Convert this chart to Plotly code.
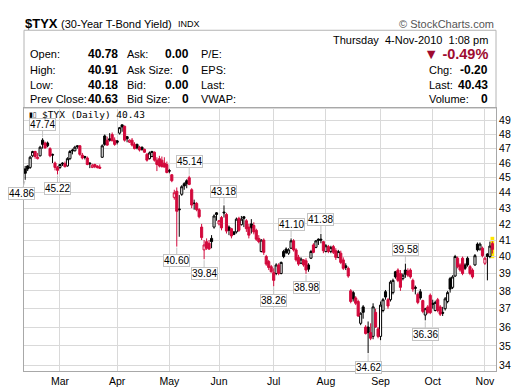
import math
import pandas as pd
import plotly.graph_objects as go

# ---------------- data ----------------
holidays = ["2010-02-15", "2010-04-02", "2010-05-31", "2010-07-05", "2010-09-06"]
dates = [d.strftime("%Y-%m-%d") for d in pd.bdate_range("2010-02-08", "2010-11-04")
         if d.strftime("%Y-%m-%d") not in holidays]

open_ = [
    # Feb
    45.6, 45.8, 45.7, 46.5, 46.8, 46.3, 46.5, 47.6, 47.4, 47.4, 47.0, 46.6, 46.0, 45.7,
    # Mar
    45.7, 46.0, 45.95, 45.8, 46.3, 46.9, 46.85, 47.2, 47.2, 46.55, 46.45, 46.35, 46.0, 45.7,
    45.9, 45.8, 45.72, 46.4, 47.9, 47.6, 47.7, 48.0, 47.6,
    # Apr
    47.55, 48.1, 48.7, 48.6, 47.85, 47.45, 47.6, 47.3, 47.3, 47.1, 47.1, 46.95, 46.6, 46.3,
    46.45, 46.75, 46.2, 46.3, 46.2, 46.0, 45.9,
    # May
    45.48, 45.2, 43.7, 44.1, 42.95, 43.9, 44.6, 44.8, 45.0, 44.2, 43.3, 43.3, 42.9, 41.8,
    40.4, 40.9, 40.8, 41.1, 41.8, 42.7,
    # Jun
    42.0, 42.4, 42.75, 42.6, 41.8, 41.7, 41.5, 41.5, 42.35, 41.95, 42.45, 42.2, 41.8, 42.0,
    41.9, 41.6, 41.1, 40.3, 41.0, 40.0, 39.7, 39.4,
    # Jul
    39.05, 39.0, 39.5, 39.0, 40.3, 40.45, 40.2, 40.5, 40.95, 40.4, 39.95, 39.6, 39.8, 39.75,
    39.5, 39.9, 40.7, 40.55, 41.05, 41.05, 40.9,
    # Aug
    40.3, 40.6, 40.3, 40.6, 40.35, 39.95, 40.2, 39.8, 39.45, 39.3, 38.0, 37.9, 37.6, 37.4,
    36.2, 37.1, 36.0, 36.0, 35.7, 35.5, 36.8, 35.9,
    # Sep
    35.5, 36.9, 37.95, 37.5, 37.5, 37.9, 39.1, 39.2, 39.0, 38.7, 39.2, 39.15, 39.2, 38.6,
    38.2, 37.8, 37.95, 37.45, 36.65, 37.1, 37.75,
    # Oct
    37.3, 36.9, 37.5, 37.1, 36.8, 37.0, 37.4, 38.7, 38.2, 38.85, 39.9, 39.5, 39.9, 39.5,
    39.9, 39.4, 39.2, 39.5, 40.75, 40.45, 40.5,
    # Nov
    39.6, 40.15, 40.0, 40.78,
]
high = [
    45.8, 45.85, 46.5, 46.85, 46.85, 46.7, 47.2, 47.74, 47.5, 47.5, 47.1, 46.65, 46.1, 45.8,
    45.95, 46.05, 46.1, 46.4, 46.9, 47.0, 47.2, 47.25, 47.25, 46.7, 46.5, 46.45, 46.05, 45.95,
    45.95, 45.85, 45.9, 47.3, 48.0, 47.85, 48.1, 48.15, 47.8,
    47.6, 48.55, 48.72, 48.65, 47.9, 47.65, 47.75, 47.45, 47.35, 47.2, 47.15, 47.0, 46.7, 46.8,
    46.85, 46.8, 46.4, 46.5, 46.45, 46.4, 46.1,
    45.6, 45.25, 44.2, 44.35, 43.85, 44.5, 44.7, 44.9, 45.14, 44.3, 43.55, 43.4, 43.0, 42.0,
    41.0, 41.1, 41.0, 41.3, 42.6, 42.75,
    42.25, 42.5, 43.18, 42.7, 41.9, 41.75, 41.55, 42.4, 42.45, 42.5, 42.5, 42.3, 42.0, 42.3,
    42.1, 41.7, 41.3, 41.05, 41.1, 40.1, 39.8, 39.5,
    39.3, 39.6, 39.6, 39.7, 40.4, 40.55, 40.5, 41.10, 41.05, 40.5, 40.1, 39.95, 39.85, 39.9,
    39.6, 40.4, 40.8, 41.0, 41.1, 41.38, 40.95,
    40.75, 40.7, 40.65, 40.7, 40.5, 40.4, 40.35, 39.95, 39.6, 39.4, 38.1, 38.0, 37.7, 37.5,
    36.8, 37.2, 36.1, 36.3, 36.2, 37.3, 37.0, 36.0,
    37.4, 37.6, 38.05, 37.6, 38.6, 38.7, 39.15, 39.3, 39.2, 39.0, 39.58, 39.3, 39.3, 38.7,
    38.3, 37.9, 38.1, 37.5, 37.05, 37.2, 37.85,
    37.5, 37.45, 37.6, 37.2, 37.1, 37.65, 38.0, 38.8, 38.9, 40.1, 40.0, 39.6, 40.0, 39.6,
    40.0, 39.5, 39.3, 40.15, 40.85, 40.85, 40.6,
    40.0, 40.2, 40.9, 40.91,
]
low = [
    44.86, 45.45, 45.6, 46.4, 46.3, 46.25, 46.45, 47.0, 47.0, 47.1, 46.4, 46.0, 45.5, 45.22,
    45.6, 45.8, 45.7, 45.75, 46.2, 46.6, 46.8, 47.0, 46.5, 46.25, 46.25, 45.85, 45.65, 45.65,
    45.65, 45.62, 45.6, 46.35, 47.2, 47.2, 47.5, 47.55, 47.2,
    47.3, 48.0, 48.2, 47.5, 47.45, 47.4, 47.15, 46.95, 46.95, 46.8, 46.85, 46.7, 46.1, 46.25,
    46.4, 46.1, 45.45, 45.7, 45.7, 45.7, 45.3,
    45.3, 44.7, 43.55, 40.60, 41.2, 43.8, 44.2, 44.3, 44.5, 43.0, 42.9, 42.8, 42.35, 41.0,
    39.84, 40.4, 40.4, 40.5, 41.7, 42.2,
    41.9, 41.6, 42.4, 41.4, 41.3, 41.1, 41.3, 41.4, 41.5, 41.9, 41.8, 41.5, 41.1, 41.4,
    41.35, 40.95, 40.8, 40.25, 40.1, 39.45, 39.2, 39.05,
    38.26, 38.9, 38.9, 38.95, 39.9, 40.15, 40.1, 40.45, 40.3, 39.7, 39.45, 39.55, 39.4, 38.98,
    39.1, 39.85, 40.2, 40.5, 40.7, 40.8, 40.2,
    40.25, 40.2, 40.2, 40.15, 39.8, 39.9, 39.55, 39.2, 39.2, 38.75, 37.3, 37.4, 37.2, 36.55,
    36.1, 36.45, 35.6, 34.62, 35.3, 35.35, 35.95, 35.4,
    35.3, 36.8, 37.5, 37.0, 37.4, 37.8, 38.7, 38.5, 38.0, 38.6, 38.75, 38.8, 38.7, 37.95,
    37.8, 37.25, 37.5, 36.75, 36.36, 36.7, 36.7,
    37.0, 36.85, 36.8, 36.6, 36.6, 36.9, 37.3, 37.9, 38.1, 38.8, 39.3, 39.1, 38.9, 39.2,
    39.4, 38.9, 38.7, 39.45, 40.3, 40.35, 39.95,
    39.5, 38.6, 39.9, 40.18,
]
close = [
    45.3, 45.6, 46.4, 46.8, 46.45, 46.4, 47.1, 47.3, 47.05, 47.2, 46.5, 46.55, 45.7, 45.5,
    45.9, 45.95, 45.75, 46.3, 46.8, 46.85, 47.1, 47.15, 46.6, 46.35, 46.4, 45.9, 45.95, 45.85,
    45.75, 45.7, 45.65, 47.2, 47.3, 47.25, 47.6, 47.55, 47.3,
    47.45, 48.5, 48.55, 47.6, 47.7, 47.6, 47.25, 47.0, 47.05, 46.9, 46.95, 46.75, 46.2, 46.7,
    46.8, 46.2, 45.9, 45.8, 45.75, 45.72, 45.35,
    45.45, 44.8, 44.0, 42.8, 42.9, 44.4, 44.45, 44.6, 44.55, 43.2, 43.32, 42.9, 42.45, 41.15,
    40.7, 40.5, 40.45, 40.9, 42.5, 42.6,
    42.2, 41.75, 42.7, 41.55, 41.6, 41.25, 41.35, 42.3, 41.6, 42.3, 42.35, 41.7, 41.3, 41.75,
    41.5, 41.05, 40.9, 41.0, 40.25, 39.55, 39.35, 39.1,
    38.6, 39.5, 39.0, 39.65, 40.0, 40.25, 40.4, 40.95, 40.4, 39.8, 39.55, 39.85, 39.5, 39.2,
    39.25, 40.3, 40.25, 40.95, 40.98, 41.0, 40.35,
    40.65, 40.3, 40.55, 40.25, 39.95, 40.3, 39.65, 39.3, 39.35, 38.85, 37.4, 37.55, 37.3, 36.6,
    36.75, 36.8, 35.65, 35.7, 35.4, 37.1, 36.0, 35.5,
    37.2, 37.5, 37.65, 37.15, 38.5, 38.6, 38.8, 38.6, 38.2, 38.9, 38.95, 38.9, 38.8, 38.1,
    38.15, 37.35, 37.6, 36.85, 37.0, 36.8, 36.78,
    37.25, 37.35, 36.9, 36.7, 36.75, 37.55, 37.9, 38.1, 38.8, 40.0, 39.4, 39.2, 39.0, 39.3,
    39.5, 39.0, 38.8, 40.05, 40.4, 40.75, 40.05,
    39.9, 40.0, 40.63, 40.43,
]

peak_idx = [7, 66, 80, 107, 119, 153]                 # labelled swing highs
trough_idx = [0, 13, 61, 72, 100, 113, 138, 161]      # labelled swing lows
month_labels = ["Mar", "Apr", "May", "Jun", "Jul", "Aug", "Sep", "Oct", "Nov"]
y_ticks = list(range(34, 50))

symbol = "$TYX"
symbol_name = "(30-Year T-Bond Yield)"
exchange = "INDX"
stamp = "Thursday  4-Nov-2010  1:08 pm"

# ---------------- styling ----------------
RED = "#D2093C"
DARKRED = "#9E0B30"
GRID = "#d9d9d9"
FRAME = "#a8a8a8"
FONT = "Liberation Sans, Arial, sans-serif"

W, H = 520, 391
L, R, T, B = 16, 32, 100, 17


def px(x):
    return (x - L) / (W - L - R)


def py(y):
    return (H - B - y) / (H - T - B)


n = len(dates)
is_up = [True] + [close[i] >= close[i - 1] for i in range(1, n)]

fig = go.Figure()
for flag, col in [(True, "black"), (False, RED)]:
    idx = [i for i in range(n) if is_up[i] == flag]
    fig.add_trace(go.Candlestick(
        x=[dates[i] for i in idx],
        open=[open_[i] for i in idx], high=[high[i] for i in idx],
        low=[low[i] for i in idx], close=[close[i] for i in idx],
        increasing=dict(line=dict(color=col, width=1), fillcolor="white"),
        decreasing=dict(line=dict(color=col, width=1), fillcolor=col),
        whiskerwidth=0, showlegend=False, hoverinfo="skip",
    ))

# month ticks: first trading day of each month
month_first = []
seen = set()
for d in dates:
    m = d[:7]
    if m not in seen:
        seen.add(m)
        month_first.append(d)
month_first = month_first[1:]

ann = []
lab_font = dict(family=FONT, size=10, color="black")
for i in peak_idx:
    ann.append(dict(x=dates[i], y=math.log10(high[i]), xref="x", yref="y",
                    text=f"{high[i]:.2f}", showarrow=True, arrowhead=0, arrowwidth=1,
                    arrowcolor="#c4c4c4", ax=0, ay=-14, standoff=1,
                    bgcolor="white", bordercolor="#c4c4c4", borderwidth=1, borderpad=0,
                    font=lab_font))
for i in trough_idx:
    ann.append(dict(x=dates[i], y=math.log10(low[i]), xref="x", yref="y",
                    text=f"{low[i]:.2f}", showarrow=True, arrowhead=0, arrowwidth=1,
                    arrowcolor="#c4c4c4", ax=(-4 if i == 0 else 0), ay=14, standoff=1,
                    bgcolor="white", bordercolor="#c4c4c4", borderwidth=1, borderpad=0,
                    font=lab_font))

# chart title inside plot
ann.append(dict(x=px(32), y=py(107), xref="paper", yref="paper", xanchor="left",
                yanchor="middle", showarrow=False,
                text=f"{symbol} (Daily) {close[-1]:.2f}",
                font=dict(family="DejaVu Sans Mono, monospace", size=9.5, color="black")))
ann.append(dict(x=px(19), y=py(107), xref="paper", yref="paper", xanchor="left",
                yanchor="middle", showarrow=False, text="▮▯",
                font=dict(family="DejaVu Sans", size=7, color="black")))


def txt(x, y, s, size=11, anchor="left", bold=False, color="black", family=FONT):
    ann.append(dict(x=px(x), y=py(y), xref="paper", yref="paper", xanchor=anchor,
                    yanchor="middle", showarrow=False,
                    text=(f"<b>{s}</b>" if bold else s),
                    font=dict(family=family, size=size, color=color)))


# top title
txt(15, 12, symbol, size=13, bold=True)
txt(51, 12, symbol_name, size=11)
txt(168, 12.5, exchange, size=9)
txt(488, 12, "© StockCharts.com", size=11, anchor="right", color="#555555")

# quote box
rows_y = [44, 60, 76, 91]
prev_close = close[-2]
chg = close[-1] - prev_close
pct = chg / prev_close * 100
col1 = [("Open:", f"{open_[-1]:.2f}"), ("High:", f"{high[-1]:.2f}"),
        ("Low:", f"{low[-1]:.2f}"), ("Prev Close:", f"{prev_close:.2f}")]
col2 = [("Ask:", "0.00"), ("Ask Size:", "0"), ("Bid:", "0.00"), ("Bid Size:", "0")]
col3 = ["P/E:", "EPS:", "Last:", "VWAP:"]
for y, (a, b) in zip(rows_y, col1):
    txt(20, y, a)
    txt(112, y, b, size=12, bold=True, anchor="right")
for y, (a, b) in zip(rows_y, col2):
    txt(117, y, a)
    txt(183, y, b, size=12, bold=True, anchor="right")
for y, a in zip(rows_y, col3):
    txt(191, y, a)

txt(482, 29, stamp, anchor="right")
txt(482, 44, f"▼ {pct:.2f}%", size=14.5, bold=True, anchor="right", color=DARKRED)
right_rows = [("Chg:", f"{chg:.2f}"), ("Last:", f"{close[-1]:.2f}"), ("Volume:", "0")]
for y, (a, b) in zip(rows_y[1:], right_rows):
    txt(419, y, a)
    txt(482, y, b, size=12, bold=True, anchor="right")

shapes = [
    dict(type="rect", xref="paper", yref="paper", x0=0, x1=1, y0=py(100), y1=py(19),
         line=dict(color="#b4b4b4", width=1), fillcolor="rgba(0,0,0,0)", layer="below"),
    dict(type="rect", xref="x", yref="y", x0=n - 1 - 0.75, x1=n - 1 + 0.75,
         y0=low[-1] * 0.993, y1=high[-1] * 1.007,
         fillcolor="#FFE600", line=dict(width=0), layer="below"),
]

y_lo = math.log10(49) - (H - B - 113.3) / 1604.9
y_hi = math.log10(49) + (113.3 - T) / 1604.9

fig.update_layout(
    width=W, height=H, margin=dict(l=L, r=R, t=T, b=B),
    paper_bgcolor="white", plot_bgcolor="white",
    boxmode="overlay", boxgap=0.15, boxgroupgap=0,
    font=dict(family=FONT, size=10, color="black"),
    xaxis=dict(type="category", categoryorder="array", categoryarray=dates,
               range=[-0.48, n + 0.46], tickvals=month_first, ticktext=month_labels,
               showgrid=True, gridcolor=GRID, gridwidth=1, ticks="",
               showline=True, linecolor=FRAME, mirror=True,
               rangeslider=dict(visible=False), fixedrange=True,
               tickfont=dict(size=10.5)),
    yaxis=dict(type="log", range=[y_lo, y_hi], side="right",
               tickvals=y_ticks, ticktext=[str(v) for v in y_ticks],
               showgrid=True, gridcolor=GRID, gridwidth=1, ticks="",
               showline=True, linecolor=FRAME, mirror=True, zeroline=False,
               tickfont=dict(size=10.5)),
    annotations=ann, shapes=shapes,
)

fig.write_html("out.html")
